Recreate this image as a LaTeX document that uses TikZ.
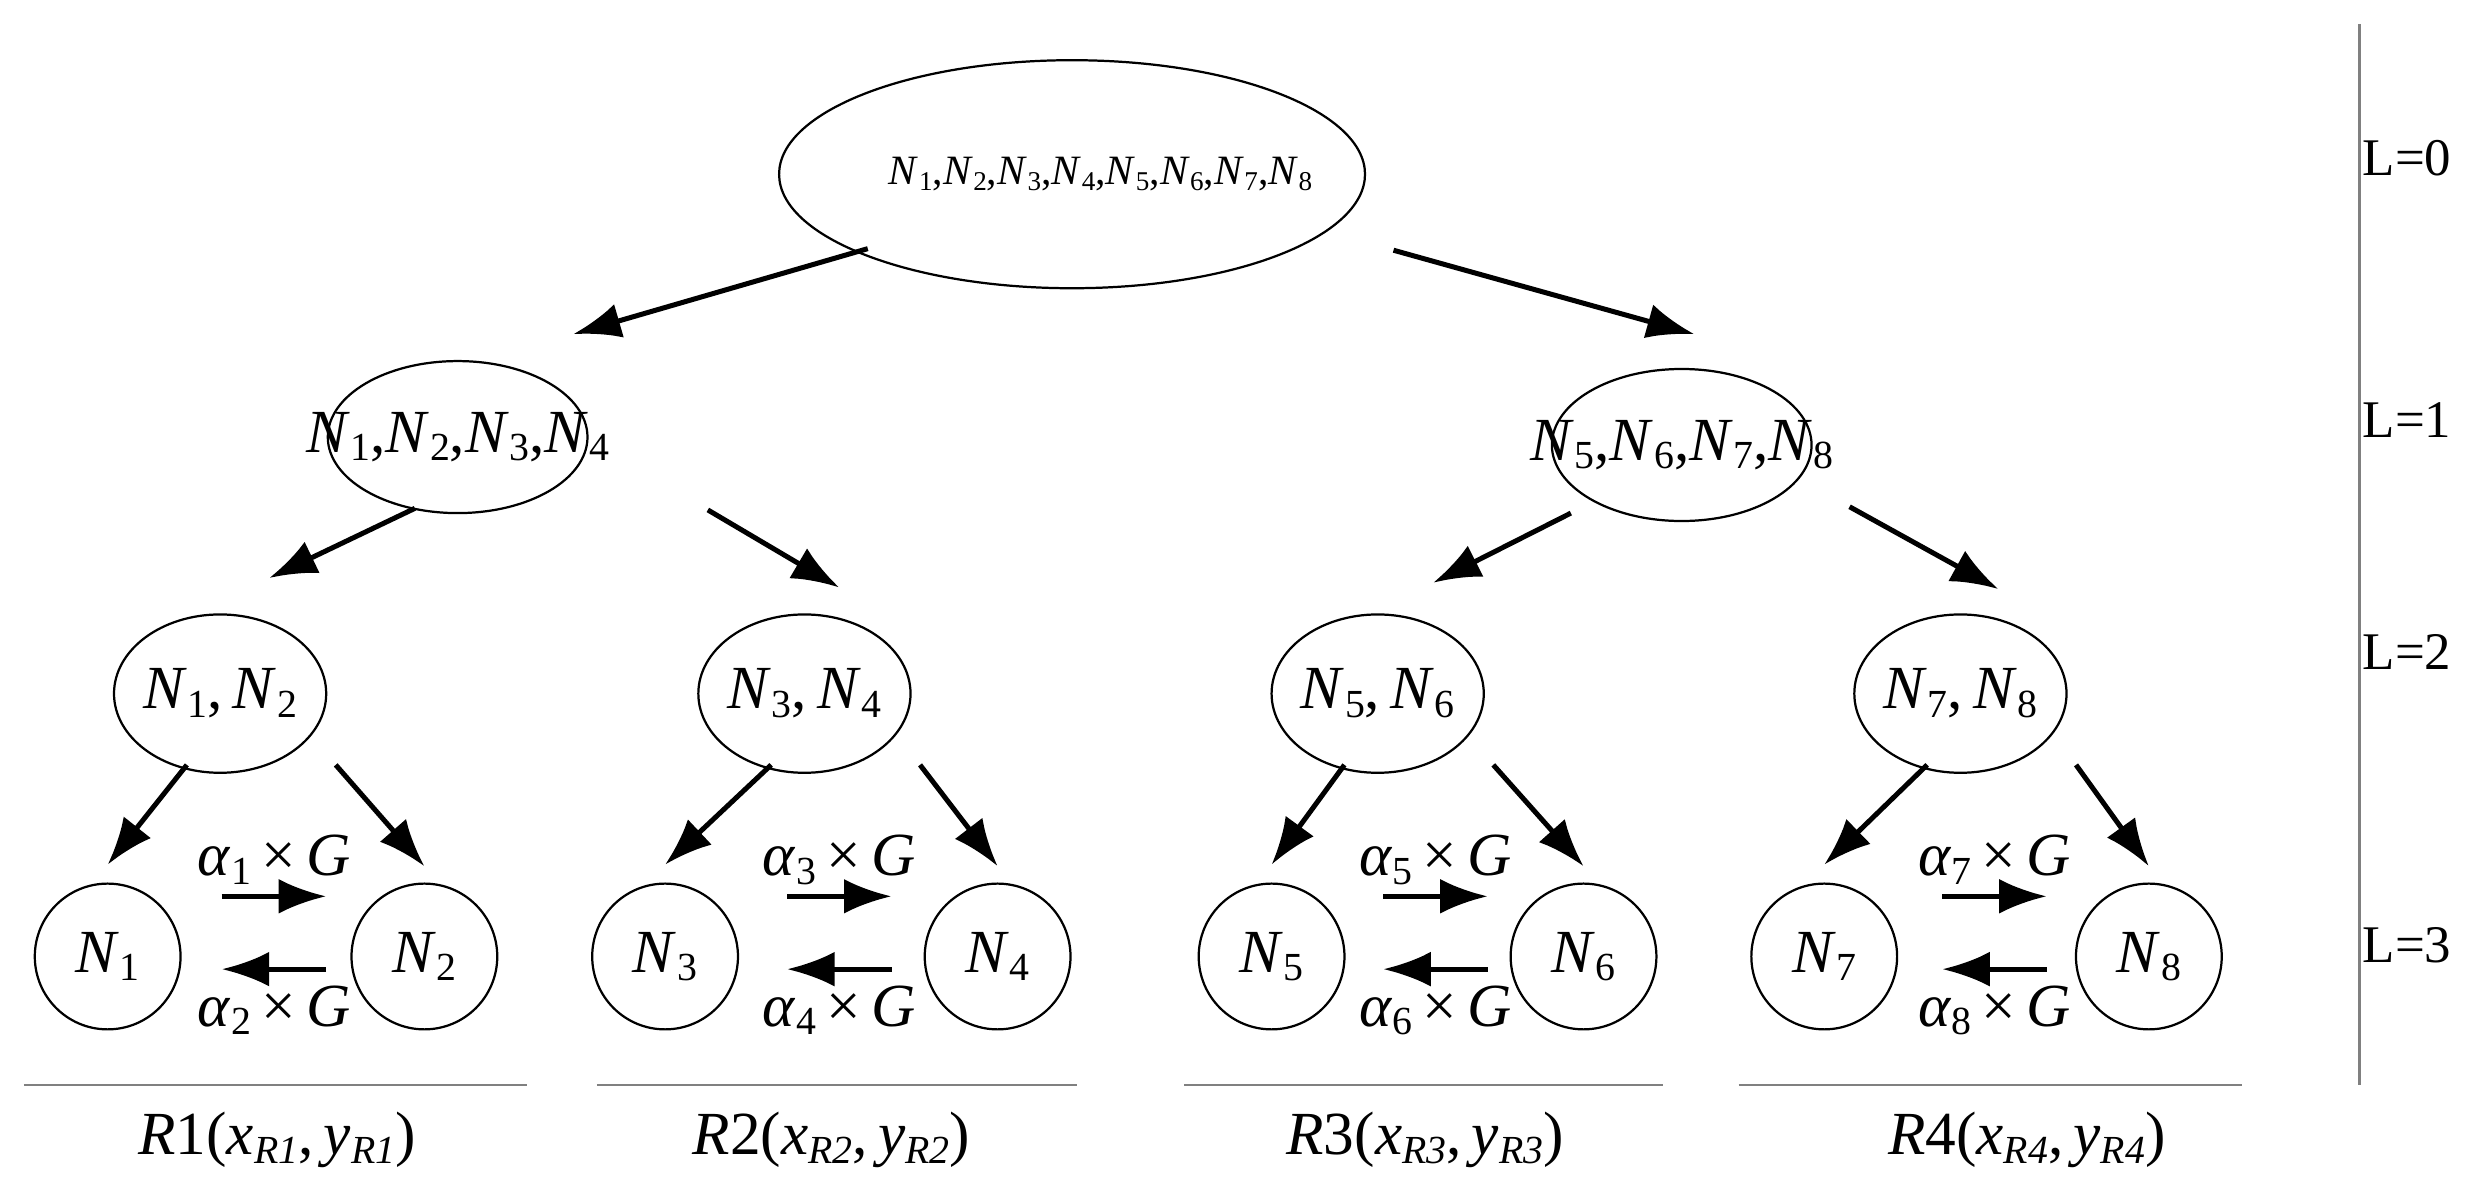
\documentclass[tikz,border=0pt]{standalone}
\usepackage{fontspec}
\setmainfont{Liberation Serif}
\usetikzlibrary{arrows.meta}
\newcommand\Nn[1]{\textit{N}\kern0.01em\raisebox{-0.3ex}{\scalebox{0.65}{#1}}}
\newcommand\Al[1]{\textit{α}\kern0.01em\raisebox{-0.3ex}{\scalebox{0.65}{#1}}}
\newcommand\Sub[1]{\raisebox{-0.3ex}{\scalebox{0.65}{\textit{#1}}}}
\begin{document}
\begin{tikzpicture}[x=0.01cm,y=-0.01cm,
  lf/.style={draw,circle,minimum size=0.92cm,inner sep=0pt,font=\fontsize{11}{11}\selectfont},
  ar/.style={-{Latex[length=3mm,width=2.2mm]},line width=0.9pt},
  lab/.style={font=\fontsize{11}{11}\selectfont},
  lev/.style={font=\fontsize{9.5}{10}\selectfont}]
\useasboundingbox (0,0) rectangle (1568,753);
\draw (677,110) ellipse (185 and 72);
\node[font=\fontsize{7.5}{8}\selectfont] (rt) at (695,110) {\Nn1,\Nn2,\Nn3,\Nn4,\Nn5,\Nn6,\Nn7,\Nn8};
\draw (289,276) ellipse (82 and 48); \node[lab] (n14) at (289,276) {\Nn1,\Nn2,\Nn3,\Nn4};
\draw (1062,281) ellipse (82 and 48); \node[lab] (n58) at (1062,281) {\Nn5,\Nn6,\Nn7,\Nn8};
\foreach \x/\a/\b in {139/1/2,508/3/4,870/5/6,1238/7/8}
  {\draw (\x,438) ellipse (67 and 50); \node[lab] (p\a) at (\x,438) {\Nn\a,\,\Nn\b};}
\coordinate (r1) at (548,157); \coordinate (r2) at (880,158);
\coordinate (a1) at (362,211); \coordinate (a2) at (1070,211);
\draw[ar] (r1) -- (a1); \draw[ar] (r2) -- (a2);
\coordinate (b1) at (262,321); \coordinate (b2) at (447,322);
\coordinate (b3) at (992,324); \coordinate (b4) at (1168,320);
\coordinate (c1) at (170,365); \coordinate (c2) at (530,371);
\coordinate (c3) at (905,368); \coordinate (c4) at (1262,372);
\draw[ar] (b1) -- (c1); \draw[ar] (b2) -- (c2);
\draw[ar] (b3) -- (c3); \draw[ar] (b4) -- (c4);
\foreach \p/\lc/\rc/\a/\b in {139/68/268/1/2,508/420/630/3/4,870/803/1000/5/6,1238/1152/1357/7/8}{
  \node[lf] (l\a) at (\lc,604) {\Nn\a};
  \node[lf] (l\b) at (\rc,604) {\Nn\b};
  \pgfmathsetmacro\m{(\lc+\rc)/2+5}
  \draw[ar] (\p-21,483) -- (\lc,546);
  \draw[ar] (\p+73,483) -- (\rc,547);
  \draw[ar] (\m-33,566) -- (\m+33,566);
  \draw[ar] (\m+33,612) -- (\m-33,612);
  \node[lab] at (\m,543) {\Al\a\,×\,\textit{G}};
  \node[lab] at (\m,638) {\Al\b\,×\,\textit{G}};
}
\draw[gray] (1490,15) -- (1490,685);
\node[lev] at (1520,100) {L=0};
\node[lev] at (1520,265) {L=1};
\node[lev] at (1520,412) {L=2};
\node[lev] at (1520,597) {L=3};
\foreach \a/\b/\c/\n in {15/333/175/1,377/680/525/2,748/1050/900/3,1098/1416/1280/4}{
  \draw[gray] (\a,685) -- (\b,685);
  \node[lab] at (\c,720) {\textit{R}\n(\textit{x}\Sub{R\n},\,\textit{y}\Sub{R\n})};
}
\end{tikzpicture}
\end{document}
